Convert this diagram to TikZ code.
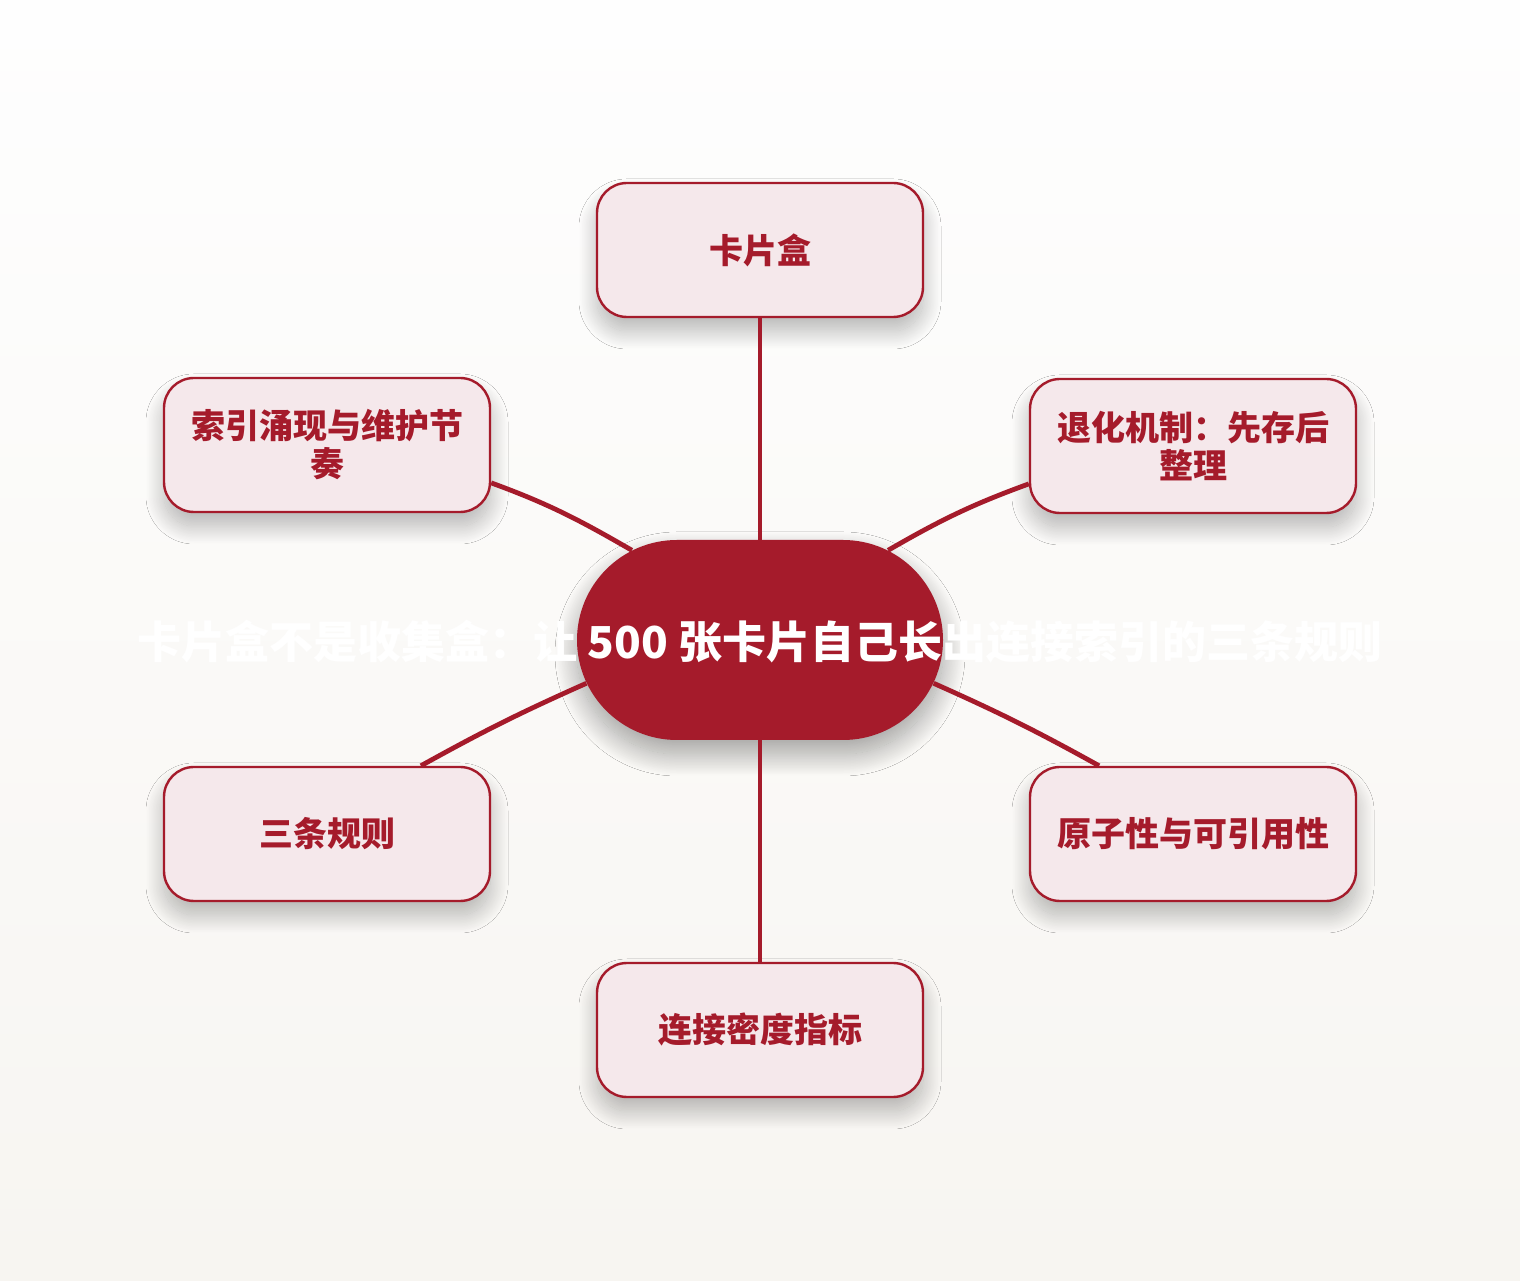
\documentclass[tikz,border=0pt]{standalone}
\usepackage{fontspec}
\setmainfont{Noto Sans CJK SC}
\usetikzlibrary{shapes.misc,shadows.blur}
\definecolor{cardred}{HTML}{A51B2B}
\definecolor{cardpink}{HTML}{F5E8EB}
\definecolor{bgtop}{HTML}{FEFEFE}
\definecolor{bgbot}{HTML}{F7F5F1}
\tikzset{topic/.style={rectangle, rounded corners=15pt, draw=cardred, line width=1.2pt, fill=cardpink,
    minimum width=163pt, minimum height=67pt, inner sep=0pt, text=cardred, align=center,
    font=\bfseries\fontsize{17}{19}\selectfont,
    blur shadow={shadow xshift=0pt, shadow yshift=-7pt, shadow blur radius=9pt, shadow blur steps=30, shadow opacity=28}},
  hubnode/.style={rounded rectangle, fill=cardred, minimum width=183pt, minimum height=100pt, inner sep=0pt,
    blur shadow={shadow xshift=0pt, shadow yshift=-7pt, shadow blur radius=11pt, shadow blur steps=30, shadow opacity=36}},
  hubtext/.style={text=white, font=\bfseries\fontsize{22}{26}\selectfont, inner sep=0pt},
  link/.style={draw=cardred, line width=2.4pt}}
\begin{document}
\begin{tikzpicture}[x=0.5pt, y=0.5pt]
\shade[top color=bgtop, bottom color=bgbot] (0,0) rectangle (1520,1280);
\node (hub) at (760,640) [hubnode] {};
\node (kapian) at (760,1030) [topic] {卡片盒};
\node (suoyin) at (327,835) [topic] {索引涌现与维护节\\奏};
\node (tuihua) at (1193,834) [topic] {退化机制：先存后\\整理};
\node (guize) at (327,446) [topic] {三条规则};
\node (yuanzi) at (1193,446) [topic] {原子性与可引用性};
\node (midu) at (760,250) [topic] {连接密度指标};
\draw[link] (hub.90)--(kapian.-90) (hub.-90)--(midu.90);
\draw[link] (hub.145) to[out=150, in=-20] (suoyin.-13)
      (hub.35) to[out=30, in=200] (tuihua.193)
      (hub.194) to[out=204, in=29] (guize.36)
      (hub.-14) to[out=-24, in=151] (yuanzi.144);
\node (title) at (760,638) [hubtext] {卡片盒不是收集盒：让 500 张卡片自己长出连接索引的三条规则};
\end{tikzpicture}
\end{document}
